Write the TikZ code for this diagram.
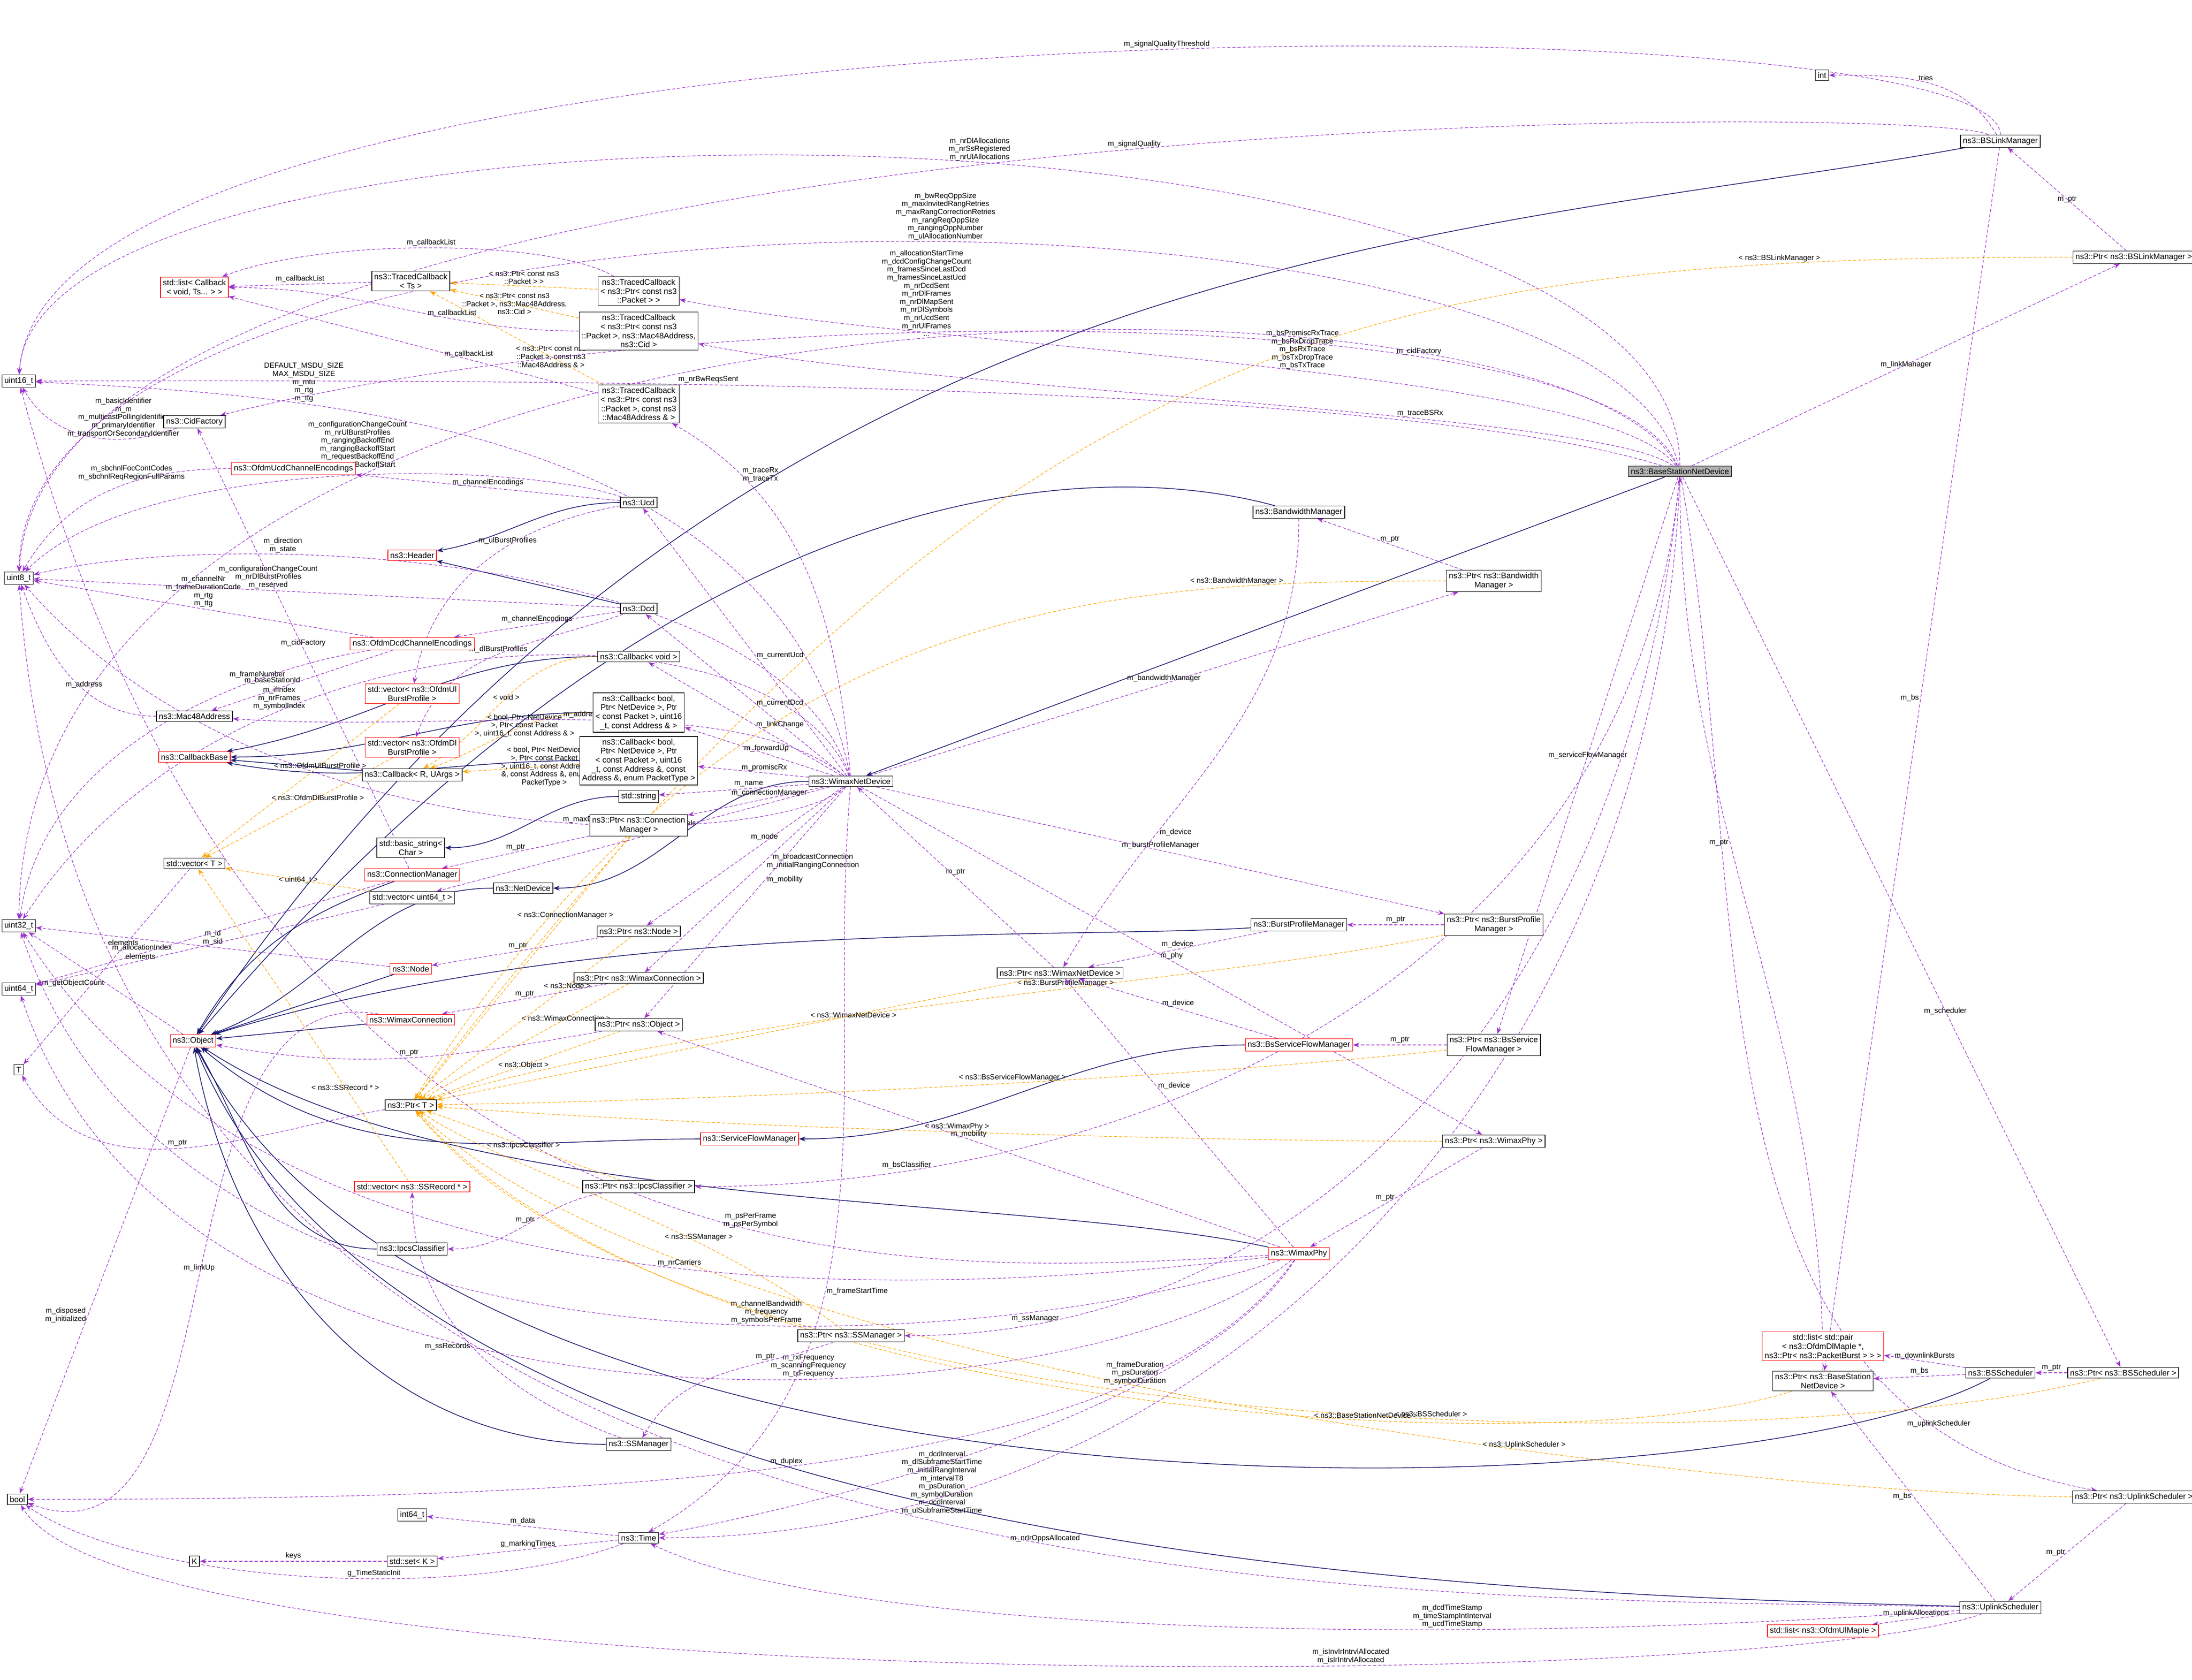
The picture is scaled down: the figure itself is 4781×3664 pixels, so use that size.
\documentclass[tikz,border=0pt]{standalone}
\usepackage{fontspec}
\setmainfont{Liberation Sans}
\usepackage{tikz}
\usetikzlibrary{arrows.meta}
\pgfdeclarelayer{lineas_layer}
\pgfsetlayers{lineas_layer,main}
\definecolor{usecol}{HTML}{9A32CD}
\definecolor{tplcol}{HTML}{FFA500}
\definecolor{inhcol}{HTML}{191970}
\tikzstyle{cls}=[draw=black,fill=white,font=\fontsize{5}{5.6}\selectfont,align=center,inner sep=1.5pt,line width=0.4pt]
\tikzstyle{clsred}=[cls,draw=red]
\tikzstyle{lbl}=[font=\fontsize{4.6}{5}\selectfont,align=center,inner sep=1pt,text=black]
\tikzstyle{use}=[draw=usecol,dashed,dash pattern=on 2pt off 1.2pt,line width=0.35pt,-{Stealth[length=4pt,width=3pt]}]
\tikzstyle{tpl}=[draw=tplcol,dashed,dash pattern=on 2pt off 1.2pt,line width=0.35pt,-{Stealth[length=4pt,width=3pt]}]
\tikzstyle{inh}=[draw=inhcol,line width=0.45pt,-{Stealth[length=4pt,width=3pt]}]

\begin{document}
\begin{tikzpicture}[x=0.01cm,y=-0.01cm]
	\useasboundingbox (0,0) rectangle (4781,3664);
	% left column
	\node [style=cls] (u16) at (41,831) {uint16\_t};
	\node [style=cls] (u8) at (41,1261) {uint8\_t};
	\node [style=cls] (u32) at (41,2019) {uint32\_t};
	\node [style=cls] (u64) at (41,2157) {uint64\_t};
	\node [style=cls] (tt) at (41,2333) {T};
	\node [style=cls] (bool) at (38,3270) {bool};
	% callbacks and headers
	\node [style=clsred] (cblist) at (424,627) {std::list< Callback\\< void, Ts... > >};
	\node [style=cls] (tcts) at (896,613) {ns3::TracedCallback\\< Ts >};
	\node [style=cls] (tcpkt) at (1393,635) {ns3::TracedCallback\\< ns3::Ptr< const ns3\\::Packet > >};
	\node [style=cls] (tccid) at (1393,722) {ns3::TracedCallback\\< ns3::Ptr< const ns3\\::Packet >, ns3::Mac48Address,\\ns3::Cid >};
	\node [style=cls] (tcmac) at (1393,881) {ns3::TracedCallback\\< ns3::Ptr< const ns3\\::Packet >, const ns3\\::Mac48Address \& >};
	\node [style=cls] (cidfac) at (424,920) {ns3::CidFactory};
	\node [style=clsred] (ucdenc) at (640,1022) {ns3::OfdmUcdChannelEncodings};
	\node [style=cls] (ucd) at (1393,1096) {ns3::Ucd};
	\node [style=clsred] (header) at (899,1211) {ns3::Header};
	\node [style=cls] (dcd) at (1393,1327) {ns3::Dcd};
	\node [style=clsred] (dcdenc) at (899,1404) {ns3::OfdmDcdChannelEncodings};
	\node [style=cls] (cbvoid) at (1393,1432) {ns3::Callback< void >};
	\node [style=clsred] (ulprof) at (899,1513) {std::vector< ns3::OfdmUl\\BurstProfile >};
	\node [style=cls] (cbfwd) at (1393,1554) {ns3::Callback< bool,\\Ptr< NetDevice >, Ptr\\< const Packet >, uint16\\\_t, const Address \& >};
	\node [style=cls] (mac) at (424,1562) {ns3::Mac48Address};
	\node [style=clsred] (dlprof) at (899,1630) {std::vector< ns3::OfdmDl\\BurstProfile >};
	\node [style=clsred] (cbbase) at (424,1651) {ns3::CallbackBase};
	\node [style=cls] (cbr) at (899,1690) {ns3::Callback< R, UArgs >};
	\node [style=cls] (cbprom) at (1393,1659) {ns3::Callback< bool,\\Ptr< NetDevice >, Ptr\\< const Packet >, uint16\\\_t, const Address \&, const\\Address \&, enum PacketType >};
	\node [style=cls] (wnd) at (1856,1704) {ns3::WimaxNetDevice};
	\node [style=cls] (str) at (1393,1737) {std::string};
	\node [style=cls] (ptrcm) at (1393,1800) {ns3::Ptr< ns3::Connection\\Manager >};
	\node [style=cls] (bstr) at (896,1849) {std::basic\_string<\\Char >};
	\node [style=cls] (vect) at (424,1883) {std::vector< T >};
	\node [style=clsred] (cm) at (899,1908) {ns3::ConnectionManager};
	\node [style=cls] (netdev) at (1141,1937) {ns3::NetDevice};
	\node [style=cls] (vu64) at (899,1958) {std::vector< uint64\_t >};
	\node [style=cls] (ptrnode) at (1393,2031) {ns3::Ptr< ns3::Node >};
	\node [style=clsred] (node) at (896,2113) {ns3::Node};
	\node [style=cls] (ptrwc) at (1393,2133) {ns3::Ptr< ns3::WimaxConnection >};
	\node [style=clsred] (wc) at (896,2224) {ns3::WimaxConnection};
	\node [style=clsred] (object) at (421,2270) {ns3::Object};
	\node [style=cls] (ptrobj) at (1393,2235) {ns3::Ptr< ns3::Object >};
	\node [style=cls] (ptrt) at (896,2410) {ns3::Ptr< T >};
	\node [style=clsred] (sfm) at (1635,2484) {ns3::ServiceFlowManager};
	\node [style=clsred] (vssr) at (899,2588) {std::vector< ns3::SSRecord * >};
	\node [style=cls] (ptripcs) at (1393,2588) {ns3::Ptr< ns3::IpcsClassifier >};
	\node [style=cls] (ipcs) at (899,2724) {ns3::IpcsClassifier};
	\node [style=cls] (ptrssm) at (1856,2913) {ns3::Ptr< ns3::SSManager >};
	\node [style=cls] (ssm) at (1393,3150) {ns3::SSManager};
	\node [style=cls] (i64) at (899,3304) {int64\_t};
	\node [style=cls] (time) at (1393,3354) {ns3::Time};
	\node [style=cls] (kk) at (424,3405) {K};
	\node [style=cls] (setk) at (899,3405) {std::set< K >};
	% right part
	\node [style=cls] (int) at (3974,164) {int};
	\node [style=cls] (bslm) at (4363,308) {ns3::BSLinkManager};
	\node [style=cls] (ptrbslm) at (4654,561) {ns3::Ptr< ns3::BSLinkManager >};
	\node [style=cls,fill=black!30] (bsnd) at (3664,1028) {ns3::BaseStationNetDevice};
	\node [style=cls] (bwm) at (2833,1117) {ns3::BandwidthManager};
	\node [style=cls] (ptrbwm) at (3258,1267) {ns3::Ptr< ns3::Bandwidth\\Manager >};
	\node [style=cls] (bpm) at (2833,2017) {ns3::BurstProfileManager};
	\node [style=cls] (ptrbpm) at (3258,2017) {ns3::Ptr< ns3::BurstProfile\\Manager >};
	\node [style=cls] (ptrwnd) at (2312,2122) {ns3::Ptr< ns3::WimaxNetDevice >};
	\node [style=clsred] (bssfm) at (2833,2279) {ns3::BsServiceFlowManager};
	\node [style=cls] (ptrbssfm) at (3258,2279) {ns3::Ptr< ns3::BsService\\FlowManager >};
	\node [style=cls] (ptrphy) at (3258,2489) {ns3::Ptr< ns3::WimaxPhy >};
	\node [style=clsred] (phy) at (2833,2734) {ns3::WimaxPhy};
	\node [style=clsred] (dlbursts) at (3976,2936) {std::list< std::pair\\< ns3::OfdmDlMapIe *,\\ns3::Ptr< ns3::PacketBurst > > >};
	\node [style=cls] (ptrbsnd) at (3976,3012) {ns3::Ptr< ns3::BaseStation\\NetDevice >};
	\node [style=cls] (bss) at (4363,2994) {ns3::BSScheduler};
	\node [style=cls] (ptrbss) at (4631,2994) {ns3::Ptr< ns3::BSScheduler >};
	\node [style=cls] (ptrul) at (4654,3265) {ns3::Ptr< ns3::UplinkScheduler >};
	\node [style=cls] (uls) at (4363,3506) {ns3::UplinkScheduler};
	\node [style=clsred] (ulmap) at (3976,3557) {std::list< ns3::OfdmUlMapIe >};

	\begin{pgfonlayer}{lineas_layer}
		% inheritance
		\path [style=inh] (bsnd) -- (wnd);
		\path [style=inh] (wnd) to[out=180,in=0] (netdev);
		\path [style=inh] (netdev) to[out=180,in=20] (object);
		\path [style=inh] (bslm) .. controls (3200,520) and (1600,520) .. (object);
		\path [style=inh] (bwm) .. controls (2400,1000) and (1500,1000) .. (object);
		\path [style=inh] (bpm) .. controls (2300,2050) and (1300,2000) .. (object);
		\path [style=inh] (bssfm) to[out=180,in=0] (sfm);
		\path [style=inh] (sfm) to[out=180,in=-40] (object);
		\path [style=inh] (phy) .. controls (2200,2600) and (1000,2650) .. (object);
		\path [style=inh] (bss) .. controls (3800,3300) and (1000,3400) .. (object);
		\path [style=inh] (uls) .. controls (3500,3480) and (900,3450) .. (object);
		\path [style=inh] (ssm) to[out=180,in=-80] (object);
		\path [style=inh] (ipcs) to[out=180,in=-60] (object);
		\path [style=inh] (cm) to[out=200,in=60] (object);
		\path [style=inh] (node) -- (object);
		\path [style=inh] (wc) -- (object);
		\path [style=inh] (ucd) to[out=180,in=10] (header);
		\path [style=inh] (dcd) -- (header);
		\path [style=inh] (cbvoid) to[out=180,in=10] (cbbase);
		\path [style=inh] (cbfwd) to[out=180,in=0] (cbbase);
		\path [style=inh] (cbprom) to[out=180,in=-10] (cbbase);
		\path [style=inh] (cbr) -- (cbbase);
		\path [style=inh] (str) to[out=180,in=0] (bstr);
		% template instances
		\path [style=tpl] (tcpkt) -- node [style=lbl,above] {< ns3::Ptr< const ns3\\::Packet > >} (tcts);
		\path [style=tpl] (tccid) -- node [style=lbl] {< ns3::Ptr< const ns3\\::Packet >, ns3::Mac48Address,\\ns3::Cid >} (tcts);
		\path [style=tpl] (tcmac) -- node [style=lbl,pos=0.3] {< ns3::Ptr< const ns3\\::Packet >, const ns3\\::Mac48Address \& >} (tcts);
		\path [style=tpl] (cbvoid) to[out=180,in=30] node [style=lbl] {< void >} (cbr);
		\path [style=tpl] (cbfwd) to[out=180,in=20] node [style=lbl,pos=0.4] {< bool, Ptr< NetDevice\\>, Ptr< const Packet\\>, uint16\_t, const Address \& >} (cbr);
		\path [style=tpl] (cbprom) -- node [style=lbl,pos=0.3] {< bool, Ptr< NetDevice\\>, Ptr< const Packet\\>, uint16\_t, const Address\\\&, const Address \&, enum\\PacketType >} (cbr);
		\path [style=tpl] (ulprof) -- node [style=lbl,pos=0.4] {< ns3::OfdmUlBurstProfile >} (vect);
		\path [style=tpl] (dlprof) -- node [style=lbl,pos=0.4] {< ns3::OfdmDlBurstProfile >} (vect);
		\path [style=tpl] (vu64) -- node [style=lbl] {< uint64\_t >} (vect);
		\path [style=tpl] (vssr) -- node [style=lbl,pos=0.3] {< ns3::SSRecord * >} (vect);
		\path [style=tpl] (ptrbslm) .. controls (3000,561) and (2200,700) .. node [style=lbl,pos=0.15,above] {< ns3::BSLinkManager >} (ptrt);
		\path [style=tpl] (ptrbwm) .. controls (2400,1267) and (1600,1300) .. node [style=lbl,pos=0.2,above] {< ns3::BandwidthManager >} (ptrt);
		\path [style=tpl] (ptrbpm) .. controls (2600,2150) and (1600,2200) .. node [style=lbl,pos=0.4,above] {< ns3::BurstProfileManager >} (ptrt);
		\path [style=tpl] (ptrbssfm) .. controls (2600,2350) and (1600,2400) .. node [style=lbl,pos=0.45,above] {< ns3::BsServiceFlowManager >} (ptrt);
		\path [style=tpl] (ptrphy) .. controls (2600,2489) and (1600,2460) .. node [style=lbl,pos=0.5,above] {< ns3::WimaxPhy >} (ptrt);
		\path [style=tpl] (ptrbss) .. controls (3800,3200) and (1500,3150) .. node [style=lbl,pos=0.4,above] {< ns3::BSScheduler >} (ptrt);
		\path [style=tpl] (ptrul) .. controls (3800,3260) and (1500,3000) .. node [style=lbl,pos=0.35,above] {< ns3::UplinkScheduler >} (ptrt);
		\path [style=tpl] (ptrbsnd) .. controls (3400,3200) and (1500,3100) .. node [style=lbl,pos=0.35,above] {< ns3::BaseStationNetDevice >} (ptrt);
		\path [style=tpl] (ptrssm) .. controls (1500,2650) and (1100,2550) .. node [style=lbl,pos=0.3,above] {< ns3::SSManager >} (ptrt);
		\path [style=tpl] (ptripcs) -- node [style=lbl] {< ns3::IpcsClassifier >} (ptrt);
		\path [style=tpl] (ptrobj) -- node [style=lbl] {< ns3::Object >} (ptrt);
		\path [style=tpl] (ptrwc) -- node [style=lbl,pos=0.3] {< ns3::WimaxConnection >} (ptrt);
		\path [style=tpl] (ptrnode) -- node [style=lbl,pos=0.3] {< ns3::Node >} (ptrt);
		\path [style=tpl] (ptrcm) -- node [style=lbl,pos=0.3] {< ns3::ConnectionManager >} (ptrt);
		\path [style=tpl] (ptrwnd) -- node [style=lbl,pos=0.3] {< ns3::WimaxNetDevice >} (ptrt);
		% BaseStationNetDevice members
		\path [style=use] (bsnd) .. controls (3664,150) and (80,150) .. node [style=lbl,pos=0.45,above] {m\_nrDlAllocations\\m\_nrSsRegistered\\m\_nrUlAllocations} (u16);
		\path [style=use] (bsnd) .. controls (3500,330) and (60,330) .. node [style=lbl,pos=0.45,above] {m\_bwReqOppSize\\m\_maxInvitedRangRetries\\m\_maxRangCorrectionRetries\\m\_rangReqOppSize\\m\_rangingOppNumber\\m\_ulAllocationNumber} (u8);
		\path [style=use] (bsnd) .. controls (3400,520) and (60,520) .. node [style=lbl,pos=0.45,above] {m\_allocationStartTime\\m\_dcdConfigChangeCount\\m\_framesSinceLastDcd\\m\_framesSinceLastUcd\\m\_nrDcdSent\\m\_nrDlFrames\\m\_nrDlMapSent\\m\_nrDlSymbols\\m\_nrUcdSent\\m\_nrUlFrames\\...} (u32);
		\path [style=use] (bsnd) .. controls (3500,800) and (2000,760) .. node [style=lbl,pos=0.45,above] {m\_bsPromiscRxTrace\\m\_bsRxDropTrace\\m\_bsRxTrace\\m\_bsTxDropTrace\\m\_bsTxTrace} (tcpkt);
		\path [style=use] (bsnd) .. controls (3500,900) and (2000,850) .. node [style=lbl,pos=0.35,above] {m\_traceBSRx} (tccid);
		\path [style=use] (bsnd) .. controls (3500,640) and (1500,650) .. node [style=lbl,pos=0.3,above] {m\_cidFactory} (cidfac);
		\path [style=use] (bsnd) -- node [style=lbl,pos=0.5] {m\_linkManager} (ptrbslm);
		\path [style=use] (bsnd) -- node [style=lbl,pos=0.5] {m\_serviceFlowManager} (ptrbssfm);
		\path [style=use] (bsnd) -- node [style=lbl,pos=0.6] {m\_scheduler} (ptrbss);
		\path [style=use] (bsnd) to[out=-80,in=170] node [style=lbl,pos=0.85,above] {m\_uplinkScheduler} (ptrul);
		\path [style=use] (bsnd) to[out=-95,in=0] node [style=lbl,pos=0.9,above] {m\_ssManager} (ptrssm);
		\path [style=use] (bsnd) to[out=-95,in=0] node [style=lbl,pos=0.85,above] {m\_bsClassifier} (ptripcs);
		\path [style=use] (bsnd) to[out=-92,in=0] node [style=lbl,pos=0.8,left] {m\_dcdInterval\\m\_dlSubframeStartTime\\m\_initialRangInterval\\m\_intervalT8\\m\_psDuration\\m\_symbolDuration\\m\_ucdInterval\\m\_ulSubframeStartTime} (time);
		\path [style=use] (bsnd) .. controls (3000,820) and (1000,830) .. node [style=lbl,pos=0.6,above] {m\_nrBwReqsSent} (u16);
		% BSLinkManager
		\path [style=use] (bslm) .. controls (4363,-20) and (100,-20) .. node [style=lbl,pos=0.45,above] {m\_signalQualityThreshold} (u16);
		\path [style=use] (bslm) .. controls (4200,220) and (100,220) .. node [style=lbl,pos=0.45,above] {m\_signalQuality} (u8);
		\path [style=use] (bslm) to[out=120,in=0] node [style=lbl,above] {tries} (int);
		\path [style=use] (bslm) -- node [style=lbl,pos=0.45,left] {m\_bs} (ptrbsnd);
		\path [style=use] (ptrbslm) -- node [style=lbl] {m\_ptr} (bslm);
		% schedulers
		\path [style=use] (ptrbsnd) to[out=90,in=-90] node [style=lbl,pos=0.6,left] {m\_ptr} (bsnd);
		\path [style=use] (bss) -- node [style=lbl,above] {m\_downlinkBursts} (dlbursts);
		\path [style=use] (bss) -- node [style=lbl,above] {m\_bs} (ptrbsnd);
		\path [style=use] (ptrbss) -- node [style=lbl,above] {m\_ptr} (bss);
		\path [style=use] (ptrul) -- node [style=lbl,left] {m\_ptr} (uls);
		\path [style=use] (uls) -- node [style=lbl,left] {m\_bs} (ptrbsnd);
		\path [style=use] (uls) -- node [style=lbl,above] {m\_uplinkAllocations} (ulmap);
		\path [style=use] (uls) .. controls (3000,3600) and (1800,3550) .. node [style=lbl,pos=0.3,above] {m\_dcdTimeStamp\\m\_timeStampIntInterval\\m\_ucdTimeStamp} (time);
		\path [style=use] (uls) .. controls (3000,3480) and (200,3560) .. node [style=lbl,pos=0.4,above] {m\_nrIrOppsAllocated} (u8);
		\path [style=use] (uls) .. controls (3800,3700) and (300,3700) .. node [style=lbl,pos=0.35,above] {m\_isInvIrIntrvlAllocated\\m\_isIrIntrvlAllocated} (bool);
		% managers
		\path [style=use] (ptrbwm) -- node [style=lbl,above] {m\_ptr} (bwm);
		\path [style=use] (ptrbpm) -- node [style=lbl,above] {m\_ptr} (bpm);
		\path [style=use] (ptrbssfm) -- node [style=lbl,above] {m\_ptr} (bssfm);
		\path [style=use] (ptrphy) -- node [style=lbl,left] {m\_ptr} (phy);
		\path [style=use] (bwm) to[out=-90,in=60] node [style=lbl,pos=0.7,right] {m\_device} (ptrwnd);
		\path [style=use] (bpm) -- node [style=lbl,above] {m\_device} (ptrwnd);
		\path [style=use] (bssfm) -- node [style=lbl,above] {m\_device} (ptrwnd);
		\path [style=use] (phy) -- node [style=lbl,pos=0.6,right] {m\_device} (ptrwnd);
		\path [style=use] (ptrwnd) -- node [style=lbl,above] {m\_ptr} (wnd);
		% WimaxPhy
		\path [style=use] (phy) -- node [style=lbl,pos=0.5,above] {m\_mobility} (ptrobj);
		\path [style=use] (phy) .. controls (2000,2780) and (600,2900) .. node [style=lbl,pos=0.4,above] {m\_psPerFrame\\m\_psPerSymbol} (u16);
		\path [style=use] (phy) .. controls (2000,2830) and (600,2900) .. node [style=lbl,pos=0.45,above] {m\_nrCarriers} (u32);
		\path [style=use] (phy) .. controls (2200,2950) and (400,3100) .. node [style=lbl,pos=0.4,above] {m\_channelBandwidth\\m\_frequency\\m\_symbolsPerFrame} (u32);
		\path [style=use] (phy) .. controls (2400,3100) and (400,3250) .. node [style=lbl,pos=0.4,above] {m\_rxFrequency\\m\_scanningFrequency\\m\_txFrequency} (u64);
		\path [style=use] (phy) .. controls (2500,3200) and (1500,3270) .. node [style=lbl,pos=0.55,above] {m\_duplex} (bool);
		\path [style=use] (phy) .. controls (2600,3100) and (1700,3300) .. node [style=lbl,pos=0.3,above] {m\_frameDuration\\m\_psDuration\\m\_symbolDuration} (time);
		% WimaxNetDevice members
		\path [style=use] (wnd) -- node [style=lbl,pos=0.45,right] {m\_currentUcd} (ucd);
		\path [style=use] (wnd) -- node [style=lbl,pos=0.45,right] {m\_currentDcd} (dcd);
		\path [style=use] (wnd) -- node [style=lbl,pos=0.45,right] {m\_linkChange} (cbvoid);
		\path [style=use] (wnd) -- node [style=lbl,pos=0.45,above] {m\_forwardUp} (cbfwd);
		\path [style=use] (wnd) -- node [style=lbl,pos=0.4,above] {m\_promiscRx} (cbprom);
		\path [style=use] (wnd) -- node [style=lbl,pos=0.4,above] {m\_name} (str);
		\path [style=use] (wnd) -- node [style=lbl,pos=0.4,above] {m\_connectionManager} (ptrcm);
		\path [style=use] (wnd) -- node [style=lbl,pos=0.4,above] {m\_dlChannels} (vu64);
		\path [style=use] (wnd) -- node [style=lbl,pos=0.4,above] {m\_node} (ptrnode);
		\path [style=use] (wnd) -- node [style=lbl,pos=0.4,right] {m\_broadcastConnection\\m\_initialRangingConnection} (ptrwc);
		\path [style=use] (wnd) -- node [style=lbl,pos=0.4,right] {m\_mobility} (ptrobj);
		\path [style=use] (wnd) -- node [style=lbl,pos=0.5,above] {m\_phy} (ptrphy);
		\path [style=use] (wnd) -- node [style=lbl,pos=0.5,above] {m\_burstProfileManager} (ptrbpm);
		\path [style=use] (wnd) -- node [style=lbl,pos=0.5,above] {m\_bandwidthManager} (ptrbwm);
		\path [style=use] (wnd) to[out=95,in=-30] node [style=lbl,pos=0.8,right] {m\_traceRx\\m\_traceTx} (tcmac);
		\path [style=use] (wnd) .. controls (1700,1200) and (500,1150) .. node [style=lbl,pos=0.7,above] {m\_direction\\m\_state} (u8);
		\path [style=use] (wnd) .. controls (1700,1300) and (500,1300) .. node [style=lbl,pos=0.7,above] {m\_ifIndex\\m\_nrFrames\\m\_symbolIndex} (u32);
		\path [style=use] (wnd) .. controls (1700,900) and (600,860) .. node [style=lbl,pos=0.7,above] {DEFAULT\_MSDU\_SIZE\\MAX\_MSDU\_SIZE\\m\_mtu\\m\_rtg\\m\_ttg} (u16);
		\path [style=use] (wnd) .. controls (1700,1850) and (600,1900) .. node [style=lbl,pos=0.4,above] {m\_maxDsaRspRetries} (u8);
		\path [style=use] (wnd) .. controls (1600,1500) and (1000,1600) .. node [style=lbl,pos=0.5,above] {m\_address} (mac);
		\path [style=use] (wnd) to[out=-95,in=30] node [style=lbl,pos=0.6,right] {m\_frameStartTime} (time);
		% callbacks
		\path [style=use] (tcts) -- node [style=lbl,above] {m\_callbackList} (cblist);
		\path [style=use] (tcpkt) .. controls (1200,520) and (700,520) .. node [style=lbl,above] {m\_callbackList} (cblist);
		\path [style=use] (tccid) to[out=180,in=0] node [style=lbl,pos=0.35,above] {m\_callbackList} (cblist);
		\path [style=use] (tcmac) -- node [style=lbl,pos=0.35,above] {m\_callbackList} (cblist);
		% ucd dcd
		\path [style=use] (ucd) -- node [style=lbl,above] {m\_channelEncodings} (ucdenc);
		\path [style=use] (ucd) to[out=190,in=80] node [style=lbl,pos=0.4,above] {m\_ulBurstProfiles} (ulprof);
		\path [style=use] (ucd) .. controls (1100,1000) and (300,1000) .. node [style=lbl,pos=0.45,above=3pt] {m\_configurationChangeCount\\m\_nrUlBurstProfiles\\m\_rangingBackoffEnd\\m\_rangingBackoffStart\\m\_requestBackoffEnd\\m\_requestBackoffStart} (u8);
		\path [style=use] (dcd) -- node [style=lbl,above] {m\_channelEncodings} (dcdenc);
		\path [style=use] (dcd) to[out=200,in=70] node [style=lbl,pos=0.5,above] {m\_dlBurstProfiles} (dlprof);
		\path [style=use] (dcd) -- node [style=lbl,pos=0.6,above] {m\_configurationChangeCount\\m\_nrDlBurstProfiles\\m\_reserved} (u8);
		\path [style=use] (ucdenc) to[out=180,in=60] node [style=lbl,pos=0.4,above] {m\_sbchnlFocContCodes\\m\_sbchnlReqRegionFullParams} (u8);
		\path [style=use] (dcdenc) -- node [style=lbl,pos=0.5,above] {m\_channelNr\\m\_frameDurationCode\\m\_rtg\\m\_ttg} (u8);
		\path [style=use] (dcdenc) -- node [style=lbl,pos=0.5,left] {m\_baseStationId} (mac);
		\path [style=use] (dcdenc) .. controls (600,1450) and (100,1600) .. node [style=lbl,pos=0.3,above] {m\_frameNumber} (u32);
		\path [style=use] (cidfac) to[out=200,in=-60] node [style=lbl,pos=0.3,above] {m\_basicIdentifier\\m\_m\\m\_multicastPollingIdentifier\\m\_primaryIdentifier\\m\_transportOrSecondaryIdentifier} (u16);
		\path [style=use] (mac) to[out=180,in=-70] node [style=lbl,pos=0.4,above] {m\_address} (u8);
		% object parts
		\path [style=use] (cm) -- node [style=lbl,above] {m\_cidFactory} (cidfac);
		\path [style=use] (ptrcm) -- node [style=lbl,above] {m\_ptr} (cm);
		\path [style=use] (ptrnode) -- node [style=lbl,above] {m\_ptr} (node);
		\path [style=use] (ptrwc) -- node [style=lbl,above] {m\_ptr} (wc);
		\path [style=use] (ptrobj) to[out=190,in=-10] node [style=lbl,above] {m\_ptr} (object);
		\path [style=use] (ptripcs) to[out=190,in=0] node [style=lbl,above] {m\_ptr} (ipcs);
		\path [style=use] (ptrssm) to[out=200,in=60] node [style=lbl,pos=0.3,above] {m\_ptr} (ssm);
		\path [style=use] (ssm) to[out=160,in=-90] node [style=lbl,pos=0.5,left] {m\_ssRecords} (vssr);
		\path [style=use] (node) -- node [style=lbl,above] {m\_id\\m\_sid} (u32);
		\path [style=use] (wc) to[out=170,in=-20] node [style=lbl,above] {m\_linkUp} (bool);
		\path [style=use] (cm) -- node [style=lbl,pos=0.7,above] {m\_allocationIndex} (u64);
		\path [style=use] (object) -- node [style=lbl,pos=0.5,left] {m\_getObjectCount} (u32);
		\path [style=use] (object) -- node [style=lbl,pos=0.6,left] {m\_disposed\\m\_initialized} (bool);
		\path [style=use] (ptrt) to[out=190,in=-60] node [style=lbl,pos=0.5,above] {m\_ptr} (tt);
		\path [style=use] (vect) -- node [style=lbl,pos=0.4,above] {elements} (tt);
		\path [style=use] (vu64) -- node [style=lbl,pos=0.7,above] {elements} (u64);
		% time
		\path [style=use] (time) -- node [style=lbl,above] {m\_data} (i64);
		\path [style=use] (time) -- node [style=lbl,above] {g\_markingTimes} (setk);
		\path [style=use] (setk) -- node [style=lbl,above] {keys} (kk);
		\path [style=use] (time) .. controls (1000,3500) and (300,3450) .. node [style=lbl,pos=0.4,above] {g\_TimeStaticInit} (bool);
	\end{pgfonlayer}
\end{tikzpicture}
\end{document}
